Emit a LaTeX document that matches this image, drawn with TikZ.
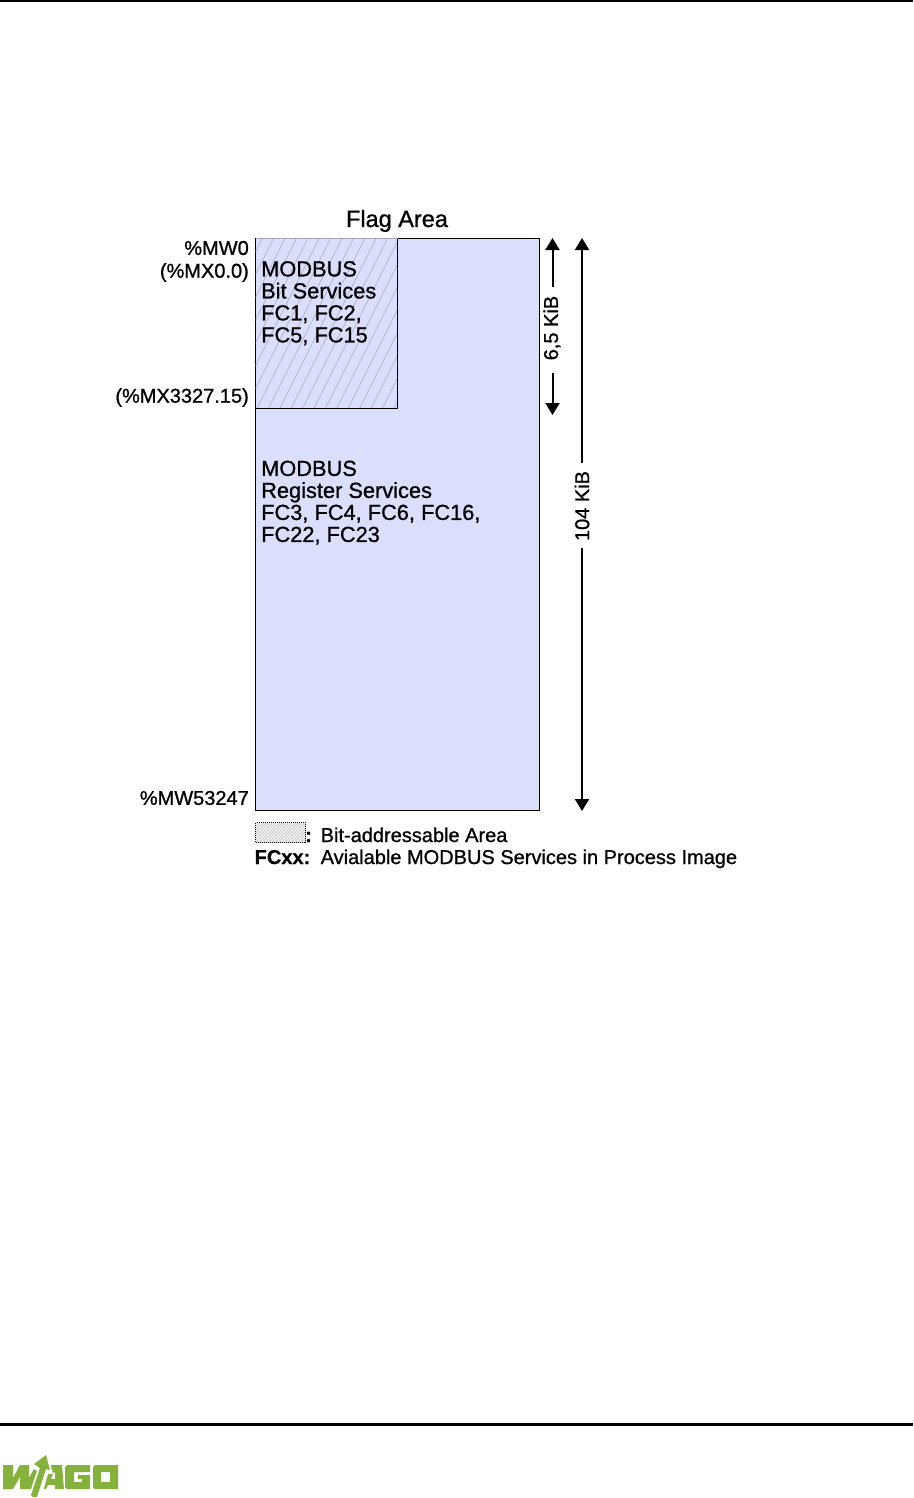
\documentclass[tikz,border=0pt]{standalone}
\usepackage{fontspec}
\setmainfont[FakeBold=0.9,BoldFont={Liberation Sans Bold}]{Liberation Sans}
\newfontfamily\plainbold[FakeBold=0.6]{Liberation Sans Bold}
\usetikzlibrary{arrows.meta}
\definecolor{areafill}{HTML}{DBDFFC}
\definecolor{hatchc}{HTML}{A4A8BE}
\definecolor{wagogreen}{HTML}{84B23C}
\tikzset{
  lab/.style={inner sep=0pt,font=\fontsize{20}{22}\selectfont},
  blk/.style={inner sep=0pt,align=left,anchor=north west,font=\fontsize{21.8}{22}\selectfont},
  rlab/.style={lab,anchor=east},
  dim/.style={line width=2pt,-{Triangle[length=12pt,width=14pt]}},
  rule/.style={fill=black,draw=none},
  logo/.style={fill=wagogreen,draw=none}
}
\begin{document}
\begin{tikzpicture}[x=1pt,y=-1pt]
\useasboundingbox (0,0) rectangle (913,1498);
\fill[white] (0,0) rectangle (913,1498);
\fill[rule] (0,0) rectangle (913,2);
\fill[rule] (0,1423) rectangle (913,1426);
% main area
\node[draw=black,line width=1pt,fill=areafill,minimum width=284pt,minimum height=572pt,inner sep=0pt,outer sep=0pt,anchor=north west] (area) at (255.5,238) {};
\node[inner sep=0pt,outer sep=0pt,minimum width=142pt,minimum height=170pt,anchor=north west] (bit) at (255.5,238) {};
\begin{scope}
\clip (bit.north west) rectangle (bit.south east);
\foreach \i in {0,...,40}{
  \draw[hatchc,line width=0.55pt] (160+\i*11.4,420) -- (160+\i*11.4+95,230);
}
\end{scope}
\draw[black,line width=1pt] (bit.north east) -- (bit.south east) -- (bit.south west);
\draw[hatchc,line width=1pt] (bit.north west) -- (bit.north east);
\node[inner sep=0pt,anchor=base,font=\fontsize{23.5}{24}\selectfont] (title) at (397,227) {Flag Area};
\node[rlab] (a1) at (249,248) {\%MW0};
\node[rlab] (a2) at (249,272.5) {(\%MX0.0)};
\node[rlab] (a3) at (249,397.5) {(\%MX3327.15)};
\node[rlab] (a4) at (249,798) {\%MW53247};
\node[blk] (b1) at (261,261) {MODBUS\\Bit Services\\FC1, FC2,\\FC5, FC15};
\node[blk] (b2) at (261,460.5) {MODBUS\\Register Services\\FC3, FC4, FC6, FC16,\\FC22, FC23};
% dimensions
\node[lab,rotate=90] (d1) at (552,328) {6,5 KiB};
\node[lab,rotate=90] (d2) at (582,506) {104 KiB};
\coordinate (d1t) at (552.5,238);
\coordinate (d1b) at (552.5,415);
\coordinate (d2t) at (582,238);
\coordinate (d2b) at (582,811);
\draw[dim] (552.5,287) coordinate (d1u) -- (d1t);
\draw[dim] (552.5,373) coordinate (d1l) -- (d1b);
\draw[dim] (582,463) coordinate (d2u) -- (d2t);
\draw[dim] (582,548) coordinate (d2l) -- (d2b);
% legend
\node[minimum width=50pt,minimum height=20pt,inner sep=0pt,outer sep=0pt,fill=black!20,anchor=north west] (sw) at (255.5,822.5) {};
\begin{scope}
\clip (sw.north west) rectangle (sw.south east);
\foreach \i in {0,...,24}{
  \draw[white,line width=0.8pt] (235+\i*3.2,846) -- (235+\i*3.2+26,820);
}
\end{scope}
\draw[black,line width=0.8pt,dash pattern=on 1pt off 1pt] (sw.north west) rectangle (sw.south east);
\node[lab,anchor=base west] (l1) at (305,842) {\textbf{:}};
\node[lab,anchor=base west] (l2) at (320.5,842) {Bit-addressable Area};
\node[lab,anchor=base west] (l3) at (254.5,864) {\plainbold FCxx:};
\node[lab,anchor=base west] (l4) at (320.5,864) {Avialable MODBUS Services in Process Image};
% logo: W
\fill[logo] (3,1465) -- (13,1465) -- (13,1478) -- (20,1465) -- (29,1465) -- (29,1478) -- (36,1465) -- (46,1465) -- (31,1489) -- (20,1489) -- (20,1477) -- (13,1489) -- (3,1489) -- cycle;
% A
\fill[logo,even odd rule] (47,1465) -- (62,1465) -- (64,1489) -- (55,1489) -- (55,1485) -- (48,1485) -- (46,1489) -- (36,1489) -- cycle
  (54,1472) -- (51,1479) -- (55,1479) -- (55,1472) -- cycle;
% arrow
\fill[white] (28,1498) -- (37,1471) -- (30,1466) -- (47,1452) -- (53,1474) -- (48,1474) -- (41,1498) -- cycle;
\fill[logo] (31,1495) -- (40,1468) -- (34,1464) -- (46,1455) -- (50,1470) -- (46,1469) -- (37,1497) -- (33,1497) -- cycle;
% G
\fill[logo] (67,1465) -- (90,1465) -- (90,1472) -- (74,1472) -- (74,1482) -- (82,1482) -- (82,1479) -- (78,1479) -- (78,1475) -- (90,1475) -- (90,1489) -- (67,1489) -- (65,1487) -- (65,1467) -- cycle;
% O
\fill[logo,even odd rule] (95,1465) -- (118,1465) -- (118,1489) -- (95,1489) -- (93,1487) -- (93,1467) -- cycle
  (101,1472) rectangle (110,1482);
\end{tikzpicture}
\end{document}
